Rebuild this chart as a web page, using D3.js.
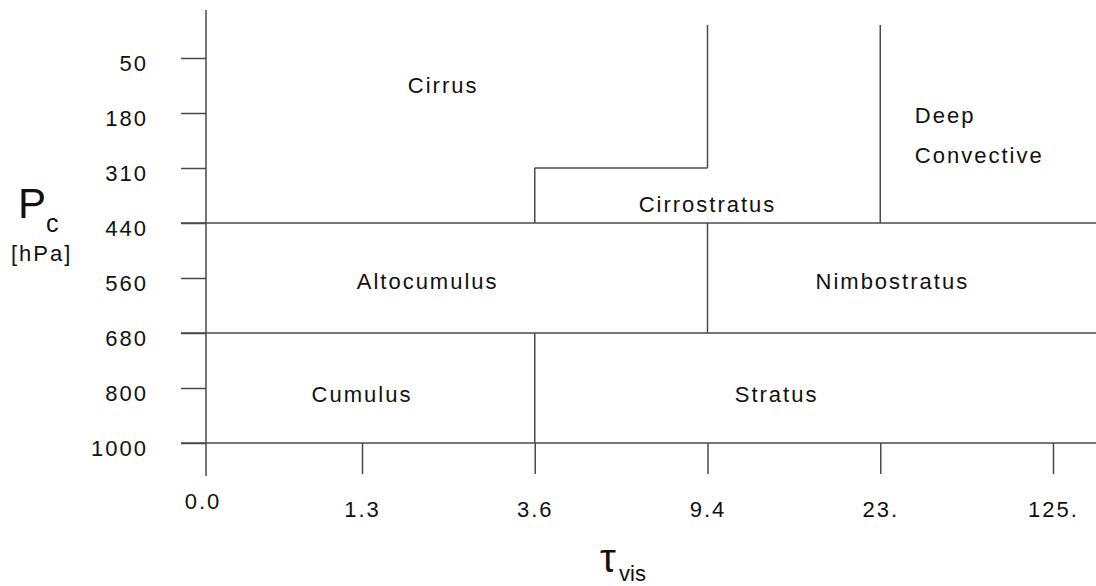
<!DOCTYPE html>
<html>
  <head>
    <script src="https://d3js.org/d3.v7.min.js" charset="utf-8"></script>
    <meta charset="UTF-8">
    <title>ISCCP cloud types</title>
    <style>
      body { margin: 0; background: #fff; }
      text { font-family: "Liberation Sans", Arial, sans-serif; fill: #111; }
      .lbl { font-size: 22px; letter-spacing: 2px; }
      .edge { stroke: #4a4a4a; stroke-width: 1.5; fill: none; }
    </style>
  </head>
  <body>
    <svg class="chart"></svg>
    <script type="text/javascript">

      var width = 1096,
          height = 586,
          axisX = 206,
          tickLen = 25;

      // optical thickness class limits, left to right
      var tauTicks = ["0.0", "1.3", "3.6", "9.4", "23.", "125."];
      // cloud top pressure levels, top to bottom
      var presTicks = [50, 180, 310, 440, 560, 680, 800, 1000];

      // levels that run across the whole diagram
      var fullLevels = [440, 680, 1000];

      // class boundaries: [tau from, p from, tau to, p to] ("top" = above 50 hPa)
      var boundaries = [
        ["9.4", "top", "9.4", 310],
        ["3.6", 310, "9.4", 310],
        ["3.6", 310, "3.6", 440],
        ["23.", "top", "23.", 440],
        ["9.4", 440, "9.4", 680],
        ["3.6", 680, "3.6", 1000]
      ];

      // cloud type names, placed in tick-index units (tau index, pressure index)
      var cloudNames = ["Cirrus", "Cirrostratus", "Deep", "Convective", "Altocumulus", "Nimbostratus", "Cumulus", "Stratus"];
      var nameTau = [1.47, 3.0, 4.2, 4.2, 1.38, 4.07, 1.0, 3.4];
      var namePres = [0.64, 2.8, 1.18, 1.9, 4.2, 4.2, 6.25, 6.25];
      var nameAnchor = ["middle", "middle", "start", "start", "middle", "middle", "middle", "middle"];

      var x = d3.scaleLinear().domain([1, tauTicks.length - 1]).range([362, 1053]);
      var y = d3.scaleLinear().domain([0, presTicks.length - 1]).range([58, 443]);

      function xt(t) { return t === "0.0" ? axisX : x(tauTicks.indexOf(t)); }
      function yp(p) { return p === "top" ? 25 : y(presTicks.indexOf(p)); }

      var chart = d3.select(".chart")
          .attr("width", width)
          .attr("height", height);

      // y axis line
      chart.append("line")
          .attr("class", "edge")
          .attr("x1", axisX).attr("x2", axisX)
          .attr("y1", 10).attr("y2", 476);

      // pressure ticks + labels
      var yAxis = chart.append("g")
          .attr("transform", "translate(" + axisX + ",0)")
          .call(d3.axisLeft(y)
              .tickValues(d3.range(presTicks.length))
              .tickSize(tickLen)
              .tickPadding(33)
              .tickFormat(function(i) { return presTicks[i]; }));
      yAxis.select(".domain").remove();
      yAxis.selectAll("line").attr("class", "edge");
      yAxis.selectAll("text")
          .attr("class", "lbl")
          .attr("y", 5);
      yAxis.attr("font-family", null).attr("font-size", null);

      // tau ticks + labels
      var xAxis = chart.append("g")
          .attr("transform", "translate(0," + y(presTicks.length - 1) + ")")
          .call(d3.axisBottom(x)
              .tickValues(d3.range(1, tauTicks.length))
              .tickSize(31)
              .tickPadding(27)
              .tickFormat(function(i) { return tauTicks[i]; }));
      xAxis.select(".domain").remove();
      xAxis.selectAll("line").attr("class", "edge");
      xAxis.selectAll("text").attr("class", "lbl");
      xAxis.attr("font-family", null).attr("font-size", null);

      chart.append("text")
          .attr("class", "lbl")
          .attr("x", axisX - 3)
          .attr("y", 509)
          .attr("text-anchor", "middle")
          .text(tauTicks[0]);

      // full width levels
      chart.append("g").selectAll("line")
          .data(fullLevels)
          .enter().append("line")
          .attr("class", "edge")
          .attr("x1", axisX - tickLen)
          .attr("x2", width)
          .attr("y1", function(d) { return yp(d); })
          .attr("y2", function(d) { return yp(d); });

      // class boundaries
      chart.append("g").selectAll("line")
          .data(boundaries)
          .enter().append("line")
          .attr("class", "edge")
          .attr("x1", function(d) { return xt(d[0]); })
          .attr("y1", function(d) { return yp(d[1]); })
          .attr("x2", function(d) { return xt(d[2]); })
          .attr("y2", function(d) { return yp(d[3]); });

      // cloud type names
      chart.append("g").selectAll("text")
          .data(cloudNames)
          .enter().append("text")
          .attr("class", "lbl")
          .attr("x", function(d, i) { return x(nameTau[i]); })
          .attr("y", function(d, i) { return y(namePres[i]); })
          .attr("text-anchor", function(d, i) { return nameAnchor[i]; })
          .text(function(d) { return d; });

      // axis titles
      var pT = chart.append("text");
      pT.append("tspan").attr("x", 18).attr("y", 218).style("font-size", "42px").text("P");
      pT.append("tspan").attr("x", 46).attr("y", 232).style("font-size", "25px").text("c");
      chart.append("text")
          .attr("class", "lbl")
          .attr("x", 11).attr("y", 261)
          .text("[hPa]");

      var tT = chart.append("text");
      tT.append("tspan").attr("x", 600).attr("y", 572).style("font-size", "40px").text("τ");
      tT.append("tspan").attr("x", 619).attr("y", 581).style("font-size", "22px").text("vis");

    </script>
  </body>
</html>
